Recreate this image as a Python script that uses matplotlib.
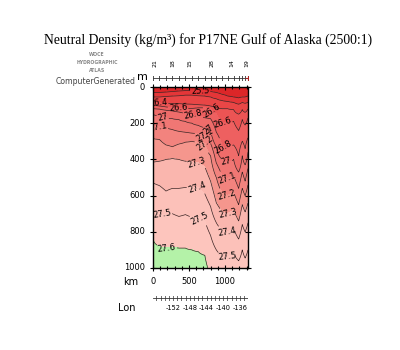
import numpy as np
import matplotlib
matplotlib.use("Agg")
import matplotlib.pyplot as plt
from matplotlib.colors import ListedColormap, BoundaryNorm
from matplotlib.ticker import MultipleLocator

# Section stations (distance along track, km)
station_km = [0, 90, 180, 270, 360, 450, 540, 630, 720, 800, 880, 960,
              1040, 1120, 1190, 1240, 1280, 1320]

# Depth (m) of each neutral-density surface at every station
depth_255 = [30, 30, 28, 25, 22, 20, 20, 20, 22, 25, 30, 40, 50, 55, 60, 55, 55, 50]
depth_260 = [55, 55, 52, 50, 48, 45, 45, 48, 50, 55, 65, 75, 80, 85, 95, 85, 90, 85]
depth_264 = [85, 88, 90, 92, 92, 94, 95, 98, 100, 105, 115, 120, 120, 125, 150, 125, 140, 120]
depth_266 = [100, 105, 110, 115, 118, 120, 118, 115, 115, 120, 150, 195, 200, 190, 240, 180, 210, 170]
depth_268 = [120, 122, 128, 132, 138, 145, 152, 160, 170, 175, 250, 330, 340, 320, 380, 300, 340, 280]
depth_270 = [150, 160, 170, 175, 180, 190, 200, 212, 225, 240, 330, 400, 415, 400, 470, 380, 430, 360]
depth_271 = [215, 220, 225, 235, 245, 250, 255, 258, 265, 310, 420, 490, 505, 490, 560, 470, 520, 450]
depth_272 = [285, 290, 320, 330, 315, 305, 300, 305, 310, 380, 500, 585, 600, 580, 650, 560, 600, 540]
depth_273 = [415, 410, 400, 395, 400, 410, 414, 420, 440, 520, 640, 690, 700, 680, 740, 650, 690, 640]
depth_274 = [530, 545, 575, 560, 560, 555, 552, 555, 590, 660, 750, 790, 800, 780, 840, 760, 800, 750]
depth_275 = [685, 700, 705, 700, 715, 705, 720, 725, 740, 820, 900, 935, 940, 920, 960, 900, 945, 900]
depth_276 = [845, 880, 890, 885, 890, 890, 900, 910, 930, 1040, 1100, 1100, 1100, 1100, 1100, 1100, 1100, 1100]

levels = [25.5, 26.0, 26.4, 26.6, 26.8, 27.0, 27.1, 27.2, 27.3, 27.4, 27.5, 27.6]
surface_gamma = 25.0
deep_gamma, deep_depth = 27.7, 1300

lon_ticks = [-152, -148, -144, -140, -136]
station_ids = ["21", "18", "15", "28", "14", "19"]
station_id_km = [30, 280, 510, 820, 1100, 1300]

# Build the gridded field: density profile at each station through its isopycnal depths
surfaces = np.array([depth_255, depth_260, depth_264, depth_266, depth_268, depth_270,
                     depth_271, depth_272, depth_273, depth_274, depth_275, depth_276], float)
z = np.linspace(0, 1000, 401)
field = np.empty((z.size, len(station_km)))
for j in range(len(station_km)):
    zd = np.concatenate([[0.0], surfaces[:, j], [deep_depth]])
    gd = np.concatenate([[surface_gamma], levels, [deep_gamma]])
    field[:, j] = np.interp(z, zd, gd)

band_colors = ['#dc2628', '#e43638', '#e94646', '#ec5454', '#ee6060', '#ef6c6a',
               '#f07774', '#f2837e', '#f5968d', '#fab6ae', '#fcc1b9', '#fdc5bd', '#b4f2a8']
cmap = ListedColormap(band_colors)
bounds = [20.0] + levels + [30.0]
norm = BoundaryNorm(bounds, cmap.N)

W, H = 400, 350
fig = plt.figure(figsize=(W / 100, H / 100), dpi=100)

def fx(px):
    return px / W

def fy(py):
    return 1 - py / H

ax = fig.add_axes([fx(153), fy(268), fx(248) - fx(153), fy(87) - fy(268)])
X, Z = np.meshgrid(station_km, z)
ax.contourf(X, Z, field, levels=bounds, cmap=cmap, norm=norm)
cs = ax.contour(X, Z, field, levels=levels, colors='#3a2222', linewidths=0.5)

label_pos = [(653, 33), (70, 94), (347, 121), (139, 160), (555, 155), (833, 127),
             (70, 221), (790, 226), (958, 204), (722, 265), (722, 309), (972, 343),
             (611, 414), (1014, 414), (1028, 508), (611, 552), (1028, 597),
             (125, 702), (653, 724), (1042, 696), (1028, 801), (194, 900), (1028, 939)]
ax.clabel(cs, levels, manual=label_pos, fmt='%g', fontsize=6, inline=True,
          inline_spacing=1, colors='black')

ax.set_xlim(0, 1320)
ax.set_ylim(1000, 0)
ax.xaxis.set_major_locator(MultipleLocator(500))
ax.xaxis.set_minor_locator(MultipleLocator(100))
ax.yaxis.set_major_locator(MultipleLocator(200))
ax.tick_params(which='both', direction='inout', top=True, right=True,
               labelsize=6.5, pad=2, width=0.8)
ax.tick_params(which='major', length=5)
ax.tick_params(which='minor', length=3)
ax.set_xticklabels([])
ax.set_yticklabels([])
for s in ax.spines.values():
    s.set_linewidth(1.0)

sans = 'DejaVu Sans'
for v in [0, 200, 400, 600, 800, 1000]:
    fig.text(fx(145), fy(87 + v * 0.181), str(v), ha='right', va='center',
             fontsize=6, family=sans)
for v in [0, 500, 1000]:
    fig.text(fx(153 + v * 0.072), fy(282), str(v), ha='center', va='center',
             fontsize=6, family=sans)
fig.text(fx(131), fy(282), 'km', ha='center', va='center', fontsize=7, family=sans)
fig.text(fx(142), fy(77), 'm', ha='center', va='center', fontsize=8, family=sans)

# Station strip above the section
sax = fig.add_axes([fx(153), fy(80), fx(248) - fx(153), fy(76) - fy(80)])
sax.set_xlim(0, 1320)
sax.set_ylim(-1, 1)
sax.axhline(0, color='#333333', lw=0.6)
sax.plot(station_km, np.zeros(len(station_km)), '|', color='#333333', ms=4, mew=0.6)
sax.plot([station_km[-1]], [0], '+', color='#aa2222', ms=5, mew=0.8)
sax.axis('off')
for k, lab in zip(station_id_km, station_ids):
    fig.text(fx(153 + k * 0.072), fy(63), lab, rotation=90, ha='center', va='center',
             fontsize=4.5, family=sans)

# Longitude scale
lax = fig.add_axes([fx(153), fy(300), fx(248) - fx(153), fy(296) - fy(300)])
lax.set_xlim(-156.8, -134.1)
lax.set_ylim(-1, 1)
lax.axhline(0, color='#333333', lw=0.6)
lax.plot(np.arange(-156, -134), np.zeros(22), '|', color='#333333', ms=4, mew=0.5)
lax.axis('off')
for v in lon_ticks:
    fig.text(fx(153 + (v + 156.8) / 22.7 * 95), fy(308), str(v),
             ha='center', va='center', fontsize=4.8, family=sans)
fig.text(fx(127), fy(308), 'Lon', ha='center', va='center', fontsize=7, family=sans)

fig.text(fx(208), fy(40), 'Neutral Density (kg/m\u00b3) for P17NE Gulf of Alaska (2500:1)',
         ha='center', va='center', fontsize=9.8, family='Liberation Serif')
for py, t in [(55, 'WOCE'), (62, 'HYDROGRAPHIC'), (70, 'ATLAS')]:
    fig.text(fx(97), fy(py), t, ha='center', va='center', fontsize=3.3,
             fontweight='bold', color='#888888', family=sans)
fig.text(fx(96), fy(82), 'ComputerGenerated', ha='center', va='center', fontsize=5.6,
         color='#444444', family=sans)

fig.savefig('out.png', dpi=100)
